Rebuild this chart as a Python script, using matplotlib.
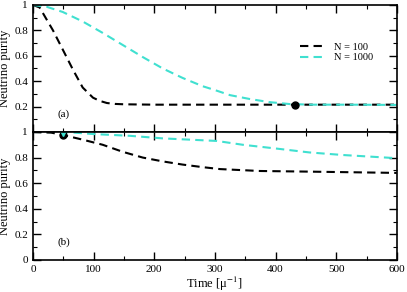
import matplotlib.pyplot as plt
from matplotlib.ticker import MultipleLocator, FuncFormatter

plt.rcParams['font.family'] = ['Liberation Serif', 'DejaVu Serif']
plt.rcParams['mathtext.fontset'] = 'stix'

# (a) панель
t_a100 = [0, 11, 33, 49, 66, 82, 99, 110, 122, 135, 150, 200, 300, 400, 500, 600]
p_a100 = [1.0, 0.98, 0.80, 0.65, 0.49, 0.35, 0.27, 0.245, 0.228, 0.221, 0.218, 0.215, 0.215, 0.215, 0.215, 0.215]
t_a1000 = [0, 23, 49, 82, 115, 148, 181, 214, 247, 280, 300, 325, 357, 390, 423, 460, 520, 600]
p_a1000 = [1.0, 0.985, 0.945, 0.87, 0.78, 0.685, 0.59, 0.50, 0.425, 0.36, 0.33, 0.29, 0.26, 0.235, 0.22, 0.215, 0.215, 0.213]

# (b) панель
t_b100 = [0, 30, 49, 82, 115, 148, 181, 214, 247, 280, 308, 374, 456, 600]
p_b100 = [1.0, 0.995, 0.977, 0.94, 0.90, 0.845, 0.80, 0.77, 0.745, 0.725, 0.71, 0.695, 0.69, 0.68]
t_b1000 = [0, 60, 99, 160, 214, 303, 346, 402, 456, 511, 600]
p_b1000 = [1.0, 0.998, 0.984, 0.97, 0.95, 0.93, 0.90, 0.87, 0.84, 0.82, 0.795]

dot_a = (432, 0.215)
dot_b100 = (50, 0.98)
dot_b1000 = (50, 1.0)

cyan = '#40E0D0'
dash = (0, (4, 2.5))

fig = plt.figure(figsize=(4.07, 2.92), dpi=100)
ax1 = fig.add_axes([0.081, 0.548, 0.894, 0.435])
ax2 = fig.add_axes([0.081, 0.110, 0.894, 0.438])

ax1.plot(t_a100, p_a100, color='black', lw=1.5, linestyle=dash, label='N = 100')
ax1.plot(t_a1000, p_a1000, color=cyan, lw=1.5, linestyle=dash, label='N = 1000')
ax1.plot(*dot_a, 'o', color='black', ms=5)

ax2.plot(t_b1000, p_b1000, color=cyan, lw=1.5, linestyle=dash)
ax2.plot(t_b100, p_b100, color='black', lw=1.5, linestyle=dash)
ax2.plot(*dot_b100, 'o', color='black', ms=5)
ax2.plot(*dot_b1000, 'd', color=cyan, ms=4)

fmt = FuncFormatter(lambda v, p: '%g' % round(v, 2))
for ax in (ax1, ax2):
    ax.set_xlim(0, 600)
    ax.set_ylim(0, 1)
    ax.xaxis.set_major_locator(MultipleLocator(100))
    ax.xaxis.set_minor_locator(MultipleLocator(50))
    ax.yaxis.set_major_locator(MultipleLocator(0.2))
    ax.yaxis.set_minor_locator(MultipleLocator(0.1))
    ax.yaxis.set_major_formatter(fmt)
    ax.tick_params(which='both', direction='in', top=True, right=True, labelsize=8)
    ax.tick_params(which='major', length=6, width=1)
    ax.tick_params(which='minor', length=3, width=0.8)
    ax.set_ylabel('Neutrino purity', fontsize=9, labelpad=2)
    for s in ax.spines.values():
        s.set_linewidth(1.2)

ax1.set_yticks([0.2, 0.4, 0.6, 0.8, 1.0])
ax1.tick_params(labelbottom=False)
ax2.xaxis.set_major_formatter(FuncFormatter(lambda v, p: '%d' % v))
ax2.set_xlabel('Time [μ$^{-1}$]', fontsize=9, labelpad=1)

ax1.text(40, 0.12, '(a)', fontsize=8)
ax2.text(40, 0.12, '(b)', fontsize=8)

ax1.legend(loc='upper right', bbox_to_anchor=(0.96, 0.78), frameon=False, fontsize=7.5,
           handlelength=2.4, labelspacing=0.15)

fig.savefig('out.png', dpi=100)
